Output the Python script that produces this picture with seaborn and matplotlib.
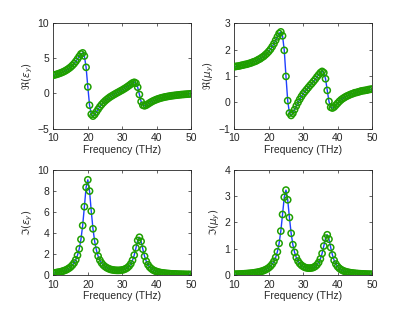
import numpy as np
import pandas as pd
import seaborn as sns
import matplotlib
matplotlib.use("Agg")
import matplotlib.pyplot as plt

# frequency samples (THz)
freq = [10.0, 10.5, 11.0, 11.5, 12.0, 12.5, 13.0, 13.5, 14.0, 14.5,
        15.0, 15.5, 16.0, 16.5, 17.0, 17.5, 18.0, 18.5, 19.0, 19.5,
        20.0, 20.5, 21.0, 21.5, 22.0, 22.5, 23.0, 23.5, 24.0, 24.5,
        25.0, 25.5, 26.0, 26.5, 27.0, 27.5, 28.0, 28.5, 29.0, 29.5,
        30.0, 30.5, 31.0, 31.5, 32.0, 32.5, 33.0, 33.5, 34.0, 34.5,
        35.0, 35.5, 36.0, 36.5, 37.0, 37.5, 38.0, 38.5, 39.0, 39.5,
        40.0, 40.5, 41.0, 41.5, 42.0, 42.5, 43.0, 43.5, 44.0, 44.5,
        45.0, 45.5, 46.0, 46.5, 47.0, 47.5, 48.0, 48.5, 49.0, 49.5,
        50.0]

eps_re = [2.60, 2.66, 2.73, 2.81, 2.90, 3.00, 3.11, 3.24, 3.39, 3.56,
          3.75, 3.98, 4.24, 4.55, 4.90, 5.27, 5.62, 5.77, 5.33, 3.72,
          0.93, -1.67, -2.96, -3.22, -2.99, -2.62, -2.24, -1.89, -1.58, -1.31,
          -1.07, -0.86, -0.67, -0.49, -0.34, -0.19, -0.05, 0.09, 0.22, 0.36,
          0.49, 0.64, 0.79, 0.96, 1.13, 1.32, 1.49, 1.59, 1.46, 0.89,
          -0.15, -1.16, -1.67, -1.76, -1.66, -1.50, -1.34, -1.19, -1.06, -0.95,
          -0.85, -0.76, -0.68, -0.61, -0.55, -0.49, -0.45, -0.40, -0.36, -0.32,
          -0.29, -0.26, -0.23, -0.20, -0.17, -0.15, -0.13, -0.11, -0.09, -0.07,
          -0.05]

eps_im = [0.19, 0.21, 0.24, 0.27, 0.30, 0.35, 0.40, 0.46, 0.54, 0.64,
          0.76, 0.93, 1.14, 1.44, 1.87, 2.48, 3.38, 4.70, 6.48, 8.32,
          9.03, 7.96, 6.06, 4.38, 3.17, 2.35, 1.79, 1.41, 1.14, 0.94,
          0.80, 0.69, 0.61, 0.54, 0.50, 0.47, 0.45, 0.44, 0.44, 0.45,
          0.48, 0.52, 0.59, 0.69, 0.84, 1.06, 1.40, 1.89, 2.57, 3.28,
          3.58, 3.19, 2.45, 1.78, 1.30, 0.97, 0.74, 0.59, 0.47, 0.39,
          0.33, 0.28, 0.24, 0.21, 0.19, 0.17, 0.15, 0.14, 0.12, 0.11,
          0.10, 0.10, 0.09, 0.08, 0.08, 0.07, 0.07, 0.06, 0.06, 0.06,
          0.05]

mu_re = [1.35, 1.36, 1.37, 1.38, 1.40, 1.41, 1.43, 1.44, 1.46, 1.48,
         1.50, 1.53, 1.55, 1.58, 1.62, 1.65, 1.70, 1.74, 1.80, 1.86,
         1.93, 2.01, 2.11, 2.22, 2.35, 2.48, 2.61, 2.67, 2.52, 1.97,
         0.98, 0.06, -0.41, -0.50, -0.42, -0.28, -0.14, -0.01, 0.11, 0.22,
         0.32, 0.40, 0.48, 0.56, 0.64, 0.71, 0.79, 0.87, 0.96, 1.04,
         1.12, 1.17, 1.12, 0.89, 0.45, 0.03, -0.19, -0.22, -0.18, -0.11,
         -0.04, 0.03, 0.09, 0.14, 0.18, 0.22, 0.25, 0.28, 0.31, 0.33,
         0.36, 0.37, 0.39, 0.41, 0.43, 0.44, 0.45, 0.46, 0.48, 0.49,
         0.50]

mu_im = [0.029, 0.032, 0.035, 0.038, 0.041, 0.045, 0.049, 0.054, 0.059, 0.065,
         0.072, 0.080, 0.090, 0.100, 0.113, 0.128, 0.147, 0.169, 0.197, 0.232,
         0.276, 0.334, 0.412, 0.518, 0.667, 0.883, 1.201, 1.666, 2.297, 2.953,
         3.222, 2.853, 2.182, 1.582, 1.151, 0.859, 0.663, 0.529, 0.435, 0.369,
         0.323, 0.291, 0.271, 0.261, 0.260, 0.269, 0.290, 0.326, 0.384, 0.474,
         0.611, 0.817, 1.100, 1.400, 1.527, 1.359, 1.046, 0.762, 0.557, 0.417,
         0.321, 0.254, 0.206, 0.170, 0.143, 0.123, 0.106, 0.093, 0.082, 0.073,
         0.066, 0.059, 0.054, 0.049, 0.045, 0.042, 0.039, 0.036, 0.033, 0.031,
         0.029]

sns.set_theme(style="ticks")
plt.rcParams['font.family'] = ['Liberation Sans', 'DejaVu Sans']
plt.rcParams['mathtext.fontset'] = 'dejavusans'
plt.rcParams['font.size'] = 7.5

df = pd.DataFrame({"freq": freq, "eps_re": eps_re, "eps_im": eps_im,
                   "mu_re": mu_re, "mu_im": mu_im})

panels = [
    ("eps_re", r'$\Re(\varepsilon_y)$', (-5, 10), [-5, 0, 5, 10]),
    ("mu_re", r'$\Re(\mu_y)$', (-1, 3), [-1, 0, 1, 2, 3]),
    ("eps_im", r'$\Im(\varepsilon_y)$', (0, 10), [0, 2, 4, 6, 8, 10]),
    ("mu_im", r'$\Im(\mu_y)$', (0, 4), [0, 1, 2, 3, 4]),
]
# matlab-like subplot positions
pos = [[0.13, 0.5838, 0.3347, 0.3412], [0.5703, 0.5838, 0.3347, 0.3412],
       [0.13, 0.11, 0.3347, 0.3412], [0.5703, 0.11, 0.3347, 0.3412]]

green = '#1f9f00'
blue = '#1f3fff'

fig = plt.figure(figsize=(4.11, 3.09), dpi=100)
for (col, lab, ylim, yt), p in zip(panels, pos):
    ax = fig.add_axes(p)
    sns.lineplot(data=df, x="freq", y=col, ax=ax, color=blue, lw=1.0, zorder=2)
    sns.scatterplot(data=df, x="freq", y=col, ax=ax, marker='o', s=20,
                    color=green, facecolor='none', edgecolor=green,
                    linewidth=1.1, zorder=3)
    ax.set_xlim(10, 50)
    ax.set_ylim(*ylim)
    ax.set_xticks([10, 20, 30, 40, 50])
    ax.set_yticks(yt)
    ax.set_xlabel('Frequency (THz)', fontsize=7.5, labelpad=1)
    ax.set_ylabel(lab, fontsize=7.5, color='#333333', labelpad=2)
    ax.tick_params(direction='in', top=True, right=True, length=2.5,
                   width=0.5, labelsize=7.5)
    ax.tick_params(axis='x', pad=3.5)
    ax.tick_params(axis='y', pad=3)
    for s in ax.spines.values():
        s.set_linewidth(0.6)
        s.set_visible(True)

fig.savefig("out.png", dpi=100)
